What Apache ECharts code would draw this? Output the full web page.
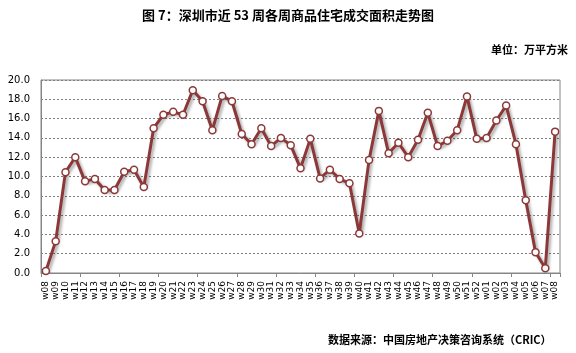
<!DOCTYPE html>
<html><head><meta charset="utf-8">
<script src="https://cdn.jsdelivr.net/npm/echarts@6/dist/echarts.min.js"></script>
<style>html,body{margin:0;padding:0;background:#fff}#c{width:576px;height:353px}</style>
</head><body><div id="c"></div>
<script>
var weeks = ['w08','w09','w10','w11','w12','w13','w14','w15','w16','w17','w18','w19','w20','w21','w22','w23','w24','w25','w26','w27','w28','w29','w30','w31','w32','w33','w34','w35','w36','w37','w38','w39','w40','w41','w42','w43','w44','w45','w46','w47','w48','w49','w50','w51','w52','w01','w02','w03','w04','w05','w06','w07','w08'];
var areaValues = [0.2,3.3,10.45,12.0,9.5,9.75,8.6,8.6,10.5,10.7,8.9,15.0,16.4,16.7,16.4,18.95,17.8,14.8,18.35,17.8,14.4,13.35,15.0,13.15,14.0,13.25,10.85,13.9,9.8,10.7,9.75,9.3,4.1,11.7,16.8,12.4,13.5,12.0,13.8,16.6,13.15,13.7,14.8,18.3,13.9,14.0,15.8,17.35,13.35,7.55,2.15,0.5,14.65];
var yTicks = {min: 0, max: 20, interval: 2};
var titleText = '图 7：深圳市近 53 周各周商品住宅成交面积走势图';
var unitText = '单位：万平方米';
var sourceText = '数据来源：中国房地产决策咨询系统（CRIC）';

var cjk = '"Noto Sans CJK SC", "DejaVu Sans", sans-serif';
var chart = echarts.init(document.getElementById('c'), null, {renderer: 'canvas'});
chart.setOption({
  animation: false,
  backgroundColor: '#fff',
  title: [
    {text: titleText, left: 'center', top: 4, textStyle: {fontFamily: cjk, fontSize: 13, fontWeight: 'bold', color: '#000'}},
    {text: unitText, right: 3, top: 39, textStyle: {fontFamily: cjk, fontSize: 11, fontWeight: 'bold', color: '#000'}},
    {text: sourceText, left: 323, top: 329, textStyle: {fontFamily: cjk, fontSize: 11, fontWeight: 'bold', color: '#000'}}
  ],
  grid: {left: 41, right: 16, top: 80, bottom: 80, show: true, borderColor: '#868686', borderWidth: 1, backgroundColor: 'transparent'},
  xAxis: {
    type: 'category', data: weeks, boundaryGap: true,
    axisLine: {lineStyle: {color: '#868686', width: 1}},
    axisTick: {show: true, interval: 3, length: 4, lineStyle: {color: '#868686'}},
    axisLabel: {interval: 0, rotate: 90, fontSize: 9, fontFamily: '"DejaVu Sans", sans-serif', color: '#000', margin: 8},
    splitLine: {show: false}
  },
  yAxis: {
    type: 'value', min: yTicks.min, max: yTicks.max, interval: yTicks.interval,
    axisLine: {show: true, lineStyle: {color: '#868686'}},
    axisTick: {show: false},
    axisLabel: {fontSize: 10, fontFamily: '"DejaVu Sans", sans-serif', color: '#000', margin: 11, formatter: function(v){return v.toFixed(1);}},
    splitLine: {show: true, lineStyle: {color: '#7f7f7f', type: [2, 2], width: 1}}
  },
  series: [{
    type: 'line', data: areaValues,
    symbol: 'circle', symbolSize: 7,
    lineStyle: {color: '#8C3838', width: 3, shadowColor: 'rgba(0,0,0,0.35)', shadowBlur: 3, shadowOffsetX: 2, shadowOffsetY: 2},
    itemStyle: {color: '#fff', borderColor: '#8C3838', borderWidth: 1.5},
    z: 3
  }]
});
</script></body></html>
